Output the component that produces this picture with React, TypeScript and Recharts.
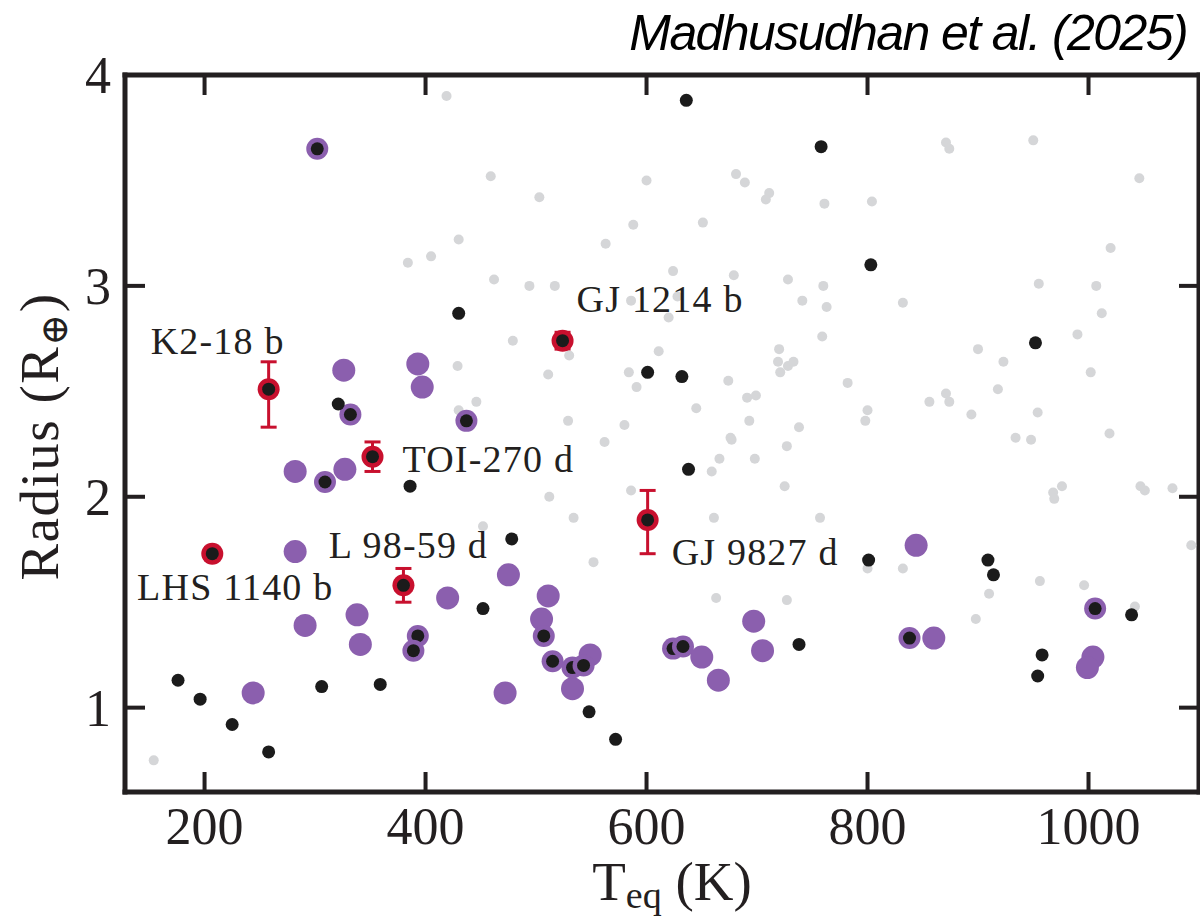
import { ErrorBar, Label, Scatter, ScatterChart, XAxis, YAxis } from "recharts";

// [Teq (K), radius (R_earth)]
type Pt = [number, number];

const greyPlanets: Pt[] = [
  [419, 3.9], [459, 3.52], [430, 3.22], [405, 3.14], [384, 3.11], [462, 3.03], [429, 2.62], [446, 2.45], [430, 2.41],
  [600, 3.5], [503, 3.42], [681, 3.53], [689, 3.49], [711, 3.44], [708, 3.41], [761, 3.39], [804, 3.4], [588, 3.29],
  [651, 3.3], [563, 3.2], [624, 3.07], [679, 3.05], [728, 3.03], [760, 3.0], [494, 3.0], [517, 3.0], [586, 2.93],
  [628, 2.95], [741, 2.93], [763, 2.9], [620, 2.85], [479, 2.74], [530, 2.67], [759, 2.76], [611, 2.69], [720, 2.7],
  [719, 2.64], [728, 2.62], [733, 2.64], [721, 2.59], [511, 2.58], [584, 2.59], [591, 2.52], [674, 2.55], [782, 2.54],
  [691, 2.47], [699, 2.48], [645, 2.42], [800, 2.41], [798, 2.36], [693, 2.36], [738, 2.33], [529, 2.36], [580, 2.34],
  [676, 2.28], [871, 3.68], [874, 3.65], [950, 3.69], [1046, 3.51], [1020, 3.18], [955, 3.01], [1007, 3.0], [832, 2.92],
  [1012, 2.87], [990, 2.77], [900, 2.7], [923, 2.64], [1002, 2.59], [918, 2.51], [871, 2.49], [874, 2.45], [856, 2.45],
  [894, 2.39], [954, 2.4], [934, 2.28], [948, 2.27], [1019, 2.3], [976, 2.05], [968, 2.02], [969, 1.99], [1047, 2.05],
  [1051, 2.03], [1076, 2.04], [1093, 1.77], [832, 1.66], [910, 1.54], [956, 1.6], [996, 1.58], [898, 1.42], [1042, 1.48],
  [562, 2.26], [677, 2.27], [727, 2.24], [666, 2.18], [698, 2.18], [659, 2.12], [725, 2.05], [586, 2.03], [512, 2.0],
  [534, 1.9], [661, 1.9], [757, 1.9], [552, 1.69], [800, 1.66], [663, 1.52], [727, 1.51], [452, 1.86], [154, 0.75],
];

const blackPlanets: Pt[] = [
  [430, 2.87], [321, 2.44], [636, 3.88], [758, 3.66], [803, 3.1], [601, 2.59], [632, 2.57], [952, 2.73], [909, 1.7],
  [914, 1.63], [1039, 1.44], [958, 1.25], [954, 1.15], [638, 2.13], [478, 1.8], [801, 1.7], [548, 0.98], [572, 0.85],
  [738, 1.3], [386, 2.05], [452, 1.47], [176, 1.13], [196, 1.04], [306, 1.1], [359, 1.11], [225, 0.92], [258, 0.79],
];

const purplePlanets: Pt[] = [
  [326, 2.6], [393, 2.63], [397, 2.52], [844, 1.77], [860, 1.33], [1004, 1.24], [999, 1.19], [475, 1.63], [511, 1.53],
  [505, 1.42], [549, 1.25], [533, 1.09], [472, 1.07], [650, 1.24], [665, 1.13], [697, 1.41], [705, 1.27], [282, 2.12],
  [327, 2.13], [282, 1.74], [420, 1.52], [291, 1.39], [338, 1.44], [341, 1.3], [244, 1.07],
];

const purpleCorePlanets: Pt[] = [
  [302, 3.65], [332, 2.39], [437, 2.36], [1006, 1.47], [838, 1.33], [507, 1.34], [515, 1.22], [533, 1.19], [543, 1.2],
  [624, 1.28], [633, 1.29], [309, 2.07], [393, 1.34], [389, 1.27],
];

const targetNames = ["K2-18 b", "GJ 1214 b", "TOI-270 d", "L 98-59 d", "LHS 1140 b", "GJ 9827 d"];
const targetTeq = [258, 524, 352, 380, 207, 601];
const targetRadius = [2.51, 2.74, 2.19, 1.58, 1.73, 1.89];
const targetErr = [[0.18, 0.13], [0.04, 0.04], [0.07, 0.07], [0.08, 0.08], [0.03, 0.03], [0.16, 0.14]];

const xDomain = [128, 1100];
const yDomain = [0.6, 4];
const xTicks = [200, 400, 600, 800, 1000];
const yTicks = [1, 2, 3, 4];

const toPts = (arr: Pt[]) => arr.map(([t, r]) => ({ t, r }));
const targets = targetNames.map((name, i) => ({
  name,
  t: targetTeq[i],
  r: targetRadius[i],
  err: targetErr[i],
}));

// where each target's name sits relative to its marker
const labelPlace: Record<string, { dx: number; dy: number; anchor: string }> = {
  "K2-18 b": { dx: 16, dy: -35, anchor: "end" },
  "GJ 1214 b": { dx: 14, dy: -29, anchor: "start" },
  "TOI-270 d": { dx: 30, dy: 15, anchor: "start" },
  "L 98-59 d": { dx: 5, dy: -27, anchor: "middle" },
  "LHS 1140 b": { dx: 23, dy: 46, anchor: "middle" },
  "GJ 9827 d": { dx: 24, dy: 45, anchor: "start" },
};

const SERIF = "'Liberation Serif', 'DejaVu Serif', serif";
const INK = "#231f20";
const GREY = "#d5d6d8";
const BLACK = "#1b1b1b";
const PURPLE = "#8b5fae";
const RED = "#c8102e";
const TICK = 20;
const TW = 4;

// plot box produced by the margins/axis sizes below
const W = 1200;
const H = 919;
const M_TOP = 74;
const Y_AXIS_W = 125;
const X_AXIS_H = 127;
const BOX = { left: Y_AXIS_W, top: M_TOP + 1, right: W - 1, bottom: H - X_AXIS_H };
const sx = (t: number) => BOX.left + ((t - xDomain[0]) / (xDomain[1] - xDomain[0])) * (BOX.right - BOX.left);
const sy = (r: number) => BOX.bottom - ((r - yDomain[0]) / (yDomain[1] - yDomain[0])) * (BOX.bottom - BOX.top);

const GreyDot = (p: any) => <circle cx={p.cx} cy={p.cy} r={5} fill={GREY} />;
const BlackDot = (p: any) => <circle cx={p.cx} cy={p.cy} r={6.5} fill={BLACK} />;
const PurpleDot = (p: any) => <circle cx={p.cx} cy={p.cy} r={11.5} fill={PURPLE} />;
const PurpleCoreDot = (p: any) => (
  <g>
    <circle cx={p.cx} cy={p.cy} r={11} fill={PURPLE} />
    <circle cx={p.cx} cy={p.cy} r={6.5} fill={BLACK} />
  </g>
);
const TargetDot = (p: any) => {
  const name = p.payload?.name ?? p.name;
  const lp = labelPlace[name] ?? { dx: 15, dy: 0, anchor: "start" };
  return (
    <g>
      <circle cx={p.cx} cy={p.cy} r={11} fill={RED} />
      <circle cx={p.cx} cy={p.cy} r={6.5} fill={BLACK} />
      <text
        x={p.cx + lp.dx}
        y={p.cy + lp.dy}
        textAnchor={lp.anchor as any}
        fontFamily={SERIF}
        fontSize={38}
        letterSpacing={1.2}
        fill={INK}
      >
        {name}
      </text>
    </g>
  );
};

const LeftLabel = ({ x, y, payload }: any) => (
  <text x={x - 14} y={y + 18} textAnchor="end" fontFamily={SERIF} fontSize={52} fill={INK}>
    {payload.value}
  </text>
);
const BottomLabel = ({ x, y, payload }: any) => (
  <text x={x} y={y + 52} textAnchor="middle" fontFamily={SERIF} fontSize={52} fill={INK}>
    {payload.value}
  </text>
);

const axisLine = { stroke: INK, strokeWidth: 5, strokeLinecap: "square" as const };

// inward tick marks on all four sides of the frame
const FrameTicks = () => (
  <g fill={INK}>
    {xTicks.map((t) => (
      <g key={`x${t}`}>
        <rect x={sx(t) - TW / 2} y={BOX.bottom - TICK} width={TW} height={TICK} />
        <rect x={sx(t) - TW / 2} y={BOX.top} width={TW} height={TICK} />
      </g>
    ))}
    {yTicks.map((r) => (
      <g key={`y${r}`}>
        <rect x={BOX.left} y={sy(r) - TW / 2} width={TICK} height={TW} />
        <rect x={BOX.right - TICK} y={sy(r) - TW / 2} width={TICK} height={TW} />
      </g>
    ))}
  </g>
);

export default function App() {
  return (
    <div style={{ position: "absolute", left: 0, top: 0, width: W, height: H, background: "#fff" }}>
      <div style={{ position: "absolute", left: 0, top: 0 }}>
        <ScatterChart width={W} height={H} margin={{ top: M_TOP, right: 0, bottom: 0, left: 0 }}>
          <XAxis
            xAxisId={0}
            dataKey="t"
            type="number"
            domain={xDomain}
            ticks={xTicks}
            interval={0}
            allowDataOverflow
            height={X_AXIS_H}
            tickSize={0}
            tickMargin={0}
            tickLine={false}
            axisLine={axisLine}
            tick={<BottomLabel />}
          >
            <Label
              content={({ viewBox }: any) => (
                <text
                  x={viewBox.x + viewBox.width / 2 + 10}
                  y={viewBox.y + 108}
                  textAnchor="middle"
                  fontFamily={SERIF}
                  fontSize={55}
                  fill={INK}
                >
                  T
                  <tspan fontSize={38} dy={8}>eq</tspan>
                  <tspan dy={-8}> (K)</tspan>
                </text>
              )}
            />
          </XAxis>
          <XAxis
            xAxisId="top"
            orientation="top"
            dataKey="t"
            type="number"
            domain={xDomain}
            ticks={xTicks}
            allowDataOverflow
            height={1}
            tickLine={false}
            axisLine={axisLine}
            tick={false}
          />
          <YAxis
            yAxisId={0}
            dataKey="r"
            type="number"
            domain={yDomain}
            ticks={yTicks}
            interval={0}
            allowDataOverflow
            width={Y_AXIS_W}
            tickSize={0}
            tickMargin={0}
            tickLine={false}
            axisLine={axisLine}
            tick={<LeftLabel />}
          >
            <Label
              content={({ viewBox }: any) => {
                const cx = 58;
                const cy = viewBox.y + viewBox.height / 2 + 3;
                return (
                  <text
                    x={cx}
                    y={cy}
                    transform={`rotate(-90, ${cx}, ${cy})`}
                    textAnchor="middle"
                    fontFamily={SERIF}
                    fontSize={55}
                    letterSpacing={1.5}
                    fill={INK}
                  >
                    Radius (R
                    <tspan fontSize={38} dy={9}>⊕</tspan>
                    <tspan dy={-9}>)</tspan>
                  </text>
                );
              }}
            />
          </YAxis>
          <YAxis
            yAxisId="right"
            orientation="right"
            dataKey="r"
            type="number"
            domain={yDomain}
            ticks={yTicks}
            allowDataOverflow
            width={1}
            tickLine={false}
            axisLine={axisLine}
            tick={false}
          />

          <Scatter
            data={toPts(greyPlanets)}
            xAxisId="top"
            yAxisId="right"
            shape={GreyDot}
            isAnimationActive={false}
          />
          <Scatter data={toPts(purplePlanets)} shape={PurpleDot} isAnimationActive={false} />
          <Scatter data={toPts(purpleCorePlanets)} shape={PurpleCoreDot} isAnimationActive={false} />
          <Scatter data={toPts(blackPlanets)} shape={BlackDot} isAnimationActive={false} />
          <Scatter data={targets} shape={TargetDot} isAnimationActive={false}>
            <ErrorBar
              dataKey="err"
              direction="y"
              width={8}
              stroke={RED}
              strokeWidth={3}
              isAnimationActive={false}
            />
          </Scatter>
        </ScatterChart>
      </div>
      <svg width={W} height={H} style={{ position: "absolute", left: 0, top: 0, pointerEvents: "none" }}>
        <FrameTicks />
        <text
          x={1187}
          y={50}
          textAnchor="end"
          fontFamily="'Liberation Sans', Arial, sans-serif"
          fontStyle="italic"
          fontSize={50}
          letterSpacing={-1.6}
          fill="#000"
        >
          Madhusudhan et al. (2025)
        </text>
      </svg>
    </div>
  );
}
